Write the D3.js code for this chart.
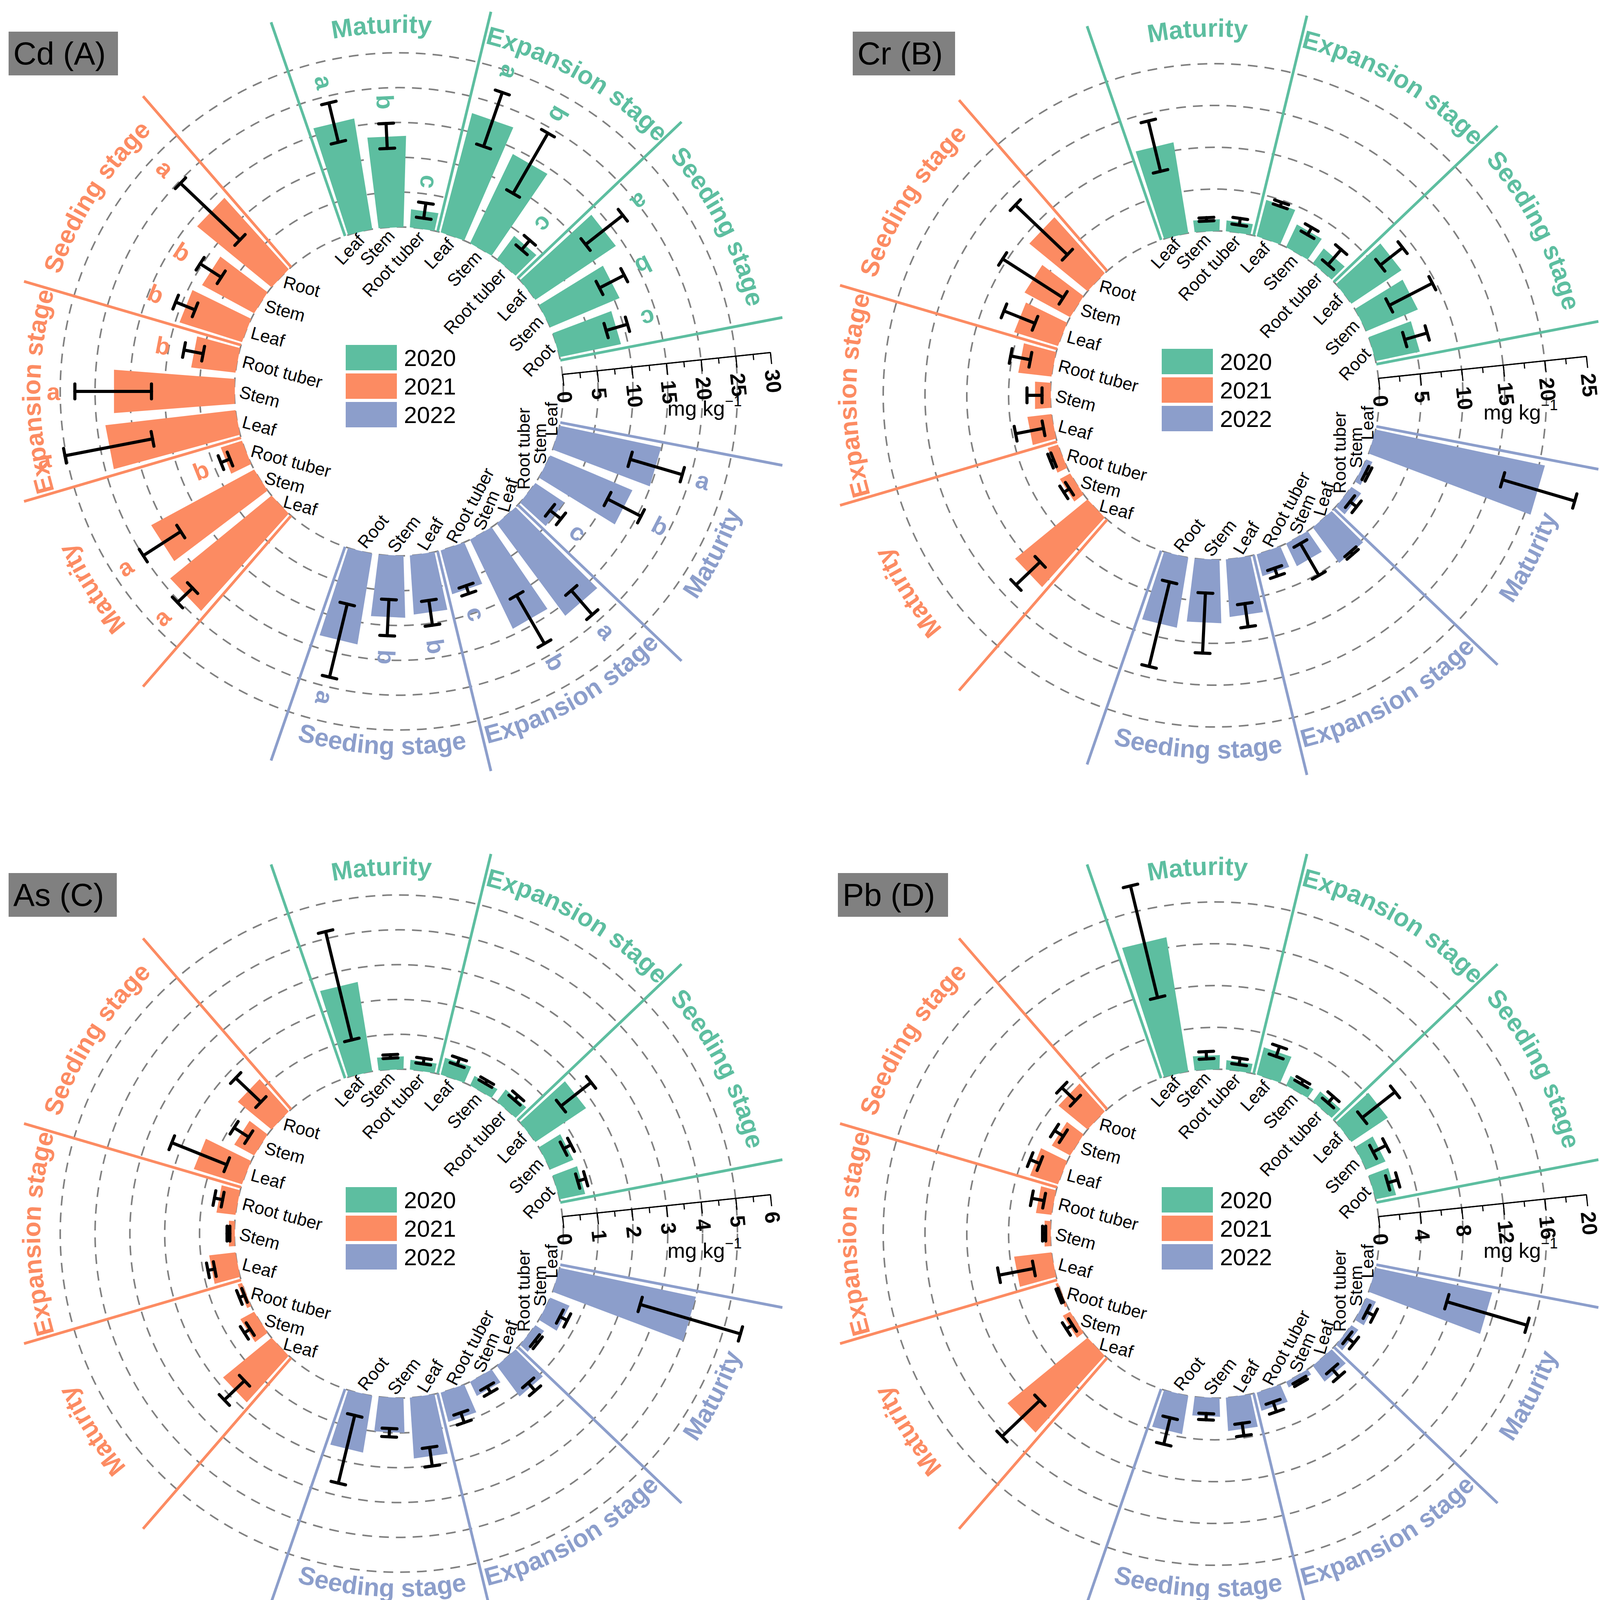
<!DOCTYPE html>
<html><head><meta charset="utf-8">
<script src="https://cdn.jsdelivr.net/npm/d3@7"></script>
<style>html,body{margin:0;padding:0;background:#fff;overflow:hidden}svg{display:block}</style>
</head><body><svg id="c"></svg>
<script>
// ---------- data ----------
const years = ["2020","2021","2022"];
const stages = ["Maturity","Expansion stage","Seeding stage"];
const organs = ["Leaf","Stem","Root tuber","Leaf","Stem","Root tuber","Leaf","Stem","Root"];

// Cd (A)
const cd2020 = [16.1, 13.1, 2.6, 17.7, 14.2, 4.2, 13.9, 10.8, 9.0];
const cd2020Sd = [2.9, 1.8, 1.1, 4.1, 5.0, 0.9, 3.4, 2.0, 1.6];
const cd2020Sig = ["a","b","c","a","b","c","a","b","c"];
const cd2021 = [18.8, 16.8, 3.2, 18.8, 17.4, 6.4, 9.4, 8.5, 13.8];
const cd2021Sd = [1.5, 3.2, 0.7, 6.4, 5.5, 1.4, 1.5, 1.8, 5.9];
const cd2021Sig = ["a","a","b","a","a","b","b","b","a"];
const cd2022 = [14.9, 12.8, 5.0, 16.5, 14.2, 6.5, 8.5, 8.9, 13.2];
const cd2022Sd = [3.9, 2.7, 1.0, 2.3, 4.0, 0.6, 1.8, 2.6, 5.4];
const cd2022Sig = ["a","b","c","a","b","c","b","b","a"];
// Cr (B)
const cr2020 = [11.0, 1.4, 1.3, 4.5, 3.0, 2.2, 7.2, 6.7, 5.4];
const cr2020Sd = [3.1, 0.2, 0.4, 0.25, 0.5, 1.2, 1.7, 2.9, 1.4];
const cr2021 = [11.2, 1.4, 1.3, 2.9, 1.9, 4.0, 5.5, 6.2, 9.0];
const cr2021Sd = [2.0, 0.4, 0.2, 1.7, 0.9, 1.2, 2.0, 4.3, 4.3];
const cr2022 = [20.7, 0.8, 1.4, 5.3, 3.0, 2.7, 6.9, 7.6, 8.5];
const cr2022Sd = [4.5, 0.2, 0.5, 0.2, 2.2, 0.5, 1.4, 3.6, 5.2];
// As (C)
const as2020 = [2.6, 0.37, 0.28, 0.5, 0.3, 0.43, 1.75, 0.72, 0.75];
const as2020Sd = [1.6, 0.05, 0.08, 0.1, 0.05, 0.08, 0.55, 0.12, 0.12];
const as2021 = [1.8, 0.45, 0.13, 0.76, 0.17, 0.55, 1.45, 0.65, 1.25];
const as2021Sd = [0.4, 0.1, 0.08, 0.1, 0.04, 0.12, 0.85, 0.25, 0.5];
const as2022 = [4.0, 0.6, 0.3, 1.1, 0.45, 0.87, 1.75, 1.0, 1.65];
const as2022Sd = [1.5, 0.12, 0.05, 0.15, 0.1, 0.15, 0.27, 0.12, 1.0];
// Pb (D)
const pb2020 = [13.0, 1.35, 0.9, 2.7, 1.0, 1.2, 4.2, 2.0, 2.0];
const pb2020Sd = [5.5, 0.35, 0.3, 0.5, 0.2, 0.4, 2.0, 0.7, 0.5];
const pb2021 = [9.9, 0.8, 0.25, 3.6, 0.6, 1.5, 2.8, 2.0, 3.6];
const pb2021Sd = [2.5, 0.35, 0.1, 1.7, 0.15, 0.6, 0.5, 0.5, 0.9];
const pb2022 = [11.4, 1.0, 0.8, 1.9, 0.6, 1.8, 3.2, 1.8, 3.7];
const pb2022Sd = [4.0, 0.4, 0.4, 0.5, 0.15, 0.5, 0.6, 0.3, 1.3];

// axis ranges
const axisMax = [30, 25, 6, 20];
const axisStep = [5, 5, 1, 4];
const titles = ["Cd (A)", "Cr (B)", "As (C)", "Pb (D)"];

// ---------- layout ----------
const R0 = 421, LEN = 535, SLOT = 360/33, BARW = 8.7, LINE_R = 1000;
const groupCenter = [30, 270, 150];
const colors = ["#5dbea0", "#fc8b62", "#8c9ecb"];
const flipped = [false, false, true];
const rot2022 = [-90,-90,-90,-74,-67,-62,-59,-52,-51];
const FONT = "'Liberation Sans', Arial, Helvetica, sans-serif";

const panels = [
  {cx:1021, cy:1002, box:[22,81,280,112], mean:[cd2020,cd2021,cd2022], sd:[cd2020Sd,cd2021Sd,cd2022Sd], sig:[cd2020Sig,cd2021Sig,cd2022Sig]},
  {cx:3110, cy:1012, box:[2183,81,262,112], mean:[cr2020,cr2021,cr2022], sd:[cr2020Sd,cr2021Sd,cr2022Sd], sig:null},
  {cx:1021, cy:3158, box:[22,2235,277,112], mean:[as2020,as2021,as2022], sd:[as2020Sd,as2021Sd,as2022Sd], sig:null},
  {cx:3110, cy:3158, box:[2145,2235,282,112], mean:[pb2020,pb2021,pb2022], sd:[pb2020Sd,pb2021Sd,pb2022Sd], sig:null}
];
panels.forEach((p,i)=>{p.title=titles[i]; p.max=axisMax[i]; p.step=axisStep[i];});

const svg = d3.select("#c").attr("width",4224).attr("height",4110).attr("viewBox","0 0 4224 4110")
  .style("font-family", FONT);
svg.append("rect").attr("width",4224).attr("height",4110).attr("fill","#fff");
const defs = svg.append("defs");

function pt(theta, r){ const a = theta*Math.PI/180; return [r*Math.sin(a), -r*Math.cos(a)]; }

panels.forEach((p, pi) => {
  const g = svg.append("g").attr("transform", `translate(${p.cx},${p.cy})`);
  const r = d3.scaleLinear().domain([0, p.max]).range([R0, R0 + LEN]);
  const majors = d3.range(0, p.max + p.step/2, p.step);

  // dashed grid circles
  g.append("g").selectAll("circle").data(majors.filter(v => v < p.max - 1e-9)).join("circle")
    .attr("r", d => r(d)).attr("fill","none").attr("stroke","#808080")
    .attr("stroke-width",4).attr("stroke-dasharray","25 18");

  years.forEach((yr, gi) => {
    const c = groupCenter[gi], col = colors[gi];
    const data = p.mean[gi].map((v,i)=>({v, e:p.sd[gi][i], s:p.sig ? p.sig[gi][i] : null,
      th: c + (i-4)*SLOT, name: organs[i], i}));
    const gg = g.append("g");

    // separator lines
    gg.selectAll("line.sep").data([-4.5,-1.5,1.5,4.5]).join("line").attr("class","sep")
      .each(function(k){
        const th = c + k*SLOT, a = pt(th, R0), b = pt(th, LINE_R);
        d3.select(this).attr("x1",a[0]).attr("y1",a[1]).attr("x2",b[0]).attr("y2",b[1]);
      })
      .attr("stroke", col).attr("stroke-width", 7);

    // bars
    gg.selectAll("path.bar").data(data).join("path").attr("class","bar")
      .attr("d", d => {
        const a1 = d.th - BARW/2, a2 = d.th + BARW/2, rv = r(d.v);
        const pts = [pt(a1,R0), pt(a1,rv), pt(a2,rv), pt(a2,R0)];
        return "M" + pts.map(q => q.join(",")).join("L") + "Z";
      })
      .attr("fill", col);

    // error bars
    const eg = gg.append("g").attr("stroke","#000").attr("stroke-width",8).attr("stroke-linecap","round").attr("fill","none");
    data.forEach(d => {
      const lo = Math.max(0, d.v - d.e), hi = d.v + d.e;
      const a = pt(d.th, r(lo)), b = pt(d.th, r(hi));
      const t = [Math.cos(d.th*Math.PI/180), Math.sin(d.th*Math.PI/180)], h = 19;
      eg.append("line").attr("x1",a[0]).attr("y1",a[1]).attr("x2",b[0]).attr("y2",b[1]);
      [a,b].forEach(q => eg.append("line")
        .attr("x1", q[0]-h*t[0]).attr("y1", q[1]-h*t[1]).attr("x2", q[0]+h*t[0]).attr("y2", q[1]+h*t[1]));
    });

    // significance letters
    if (p.sig) {
      gg.selectAll("text.sig").data(data).join("text").attr("class","sig")
        .attr("transform", d => { const q = pt(d.th, r(d.v + d.e) + 55);
          return `translate(${q[0]},${q[1]}) rotate(${flipped[gi] ? d.th - 90 : d.th + 90})`; })
        .attr("text-anchor","middle").attr("dominant-baseline","central")
        .attr("font-size",62).attr("font-weight","bold").attr("fill", col).text(d => d.s);
    }

    // organ labels
    gg.selectAll("text.org").data(data).join("text").attr("class","org")
      .attr("transform", d => { const q = pt(d.th, R0 - 14);
        const rot = gi === 0 ? -47 : gi === 1 ? 15 : rot2022[d.i];
        return `translate(${q[0]},${q[1]}) rotate(${rot})`; })
      .attr("text-anchor", gi === 0 ? "end" : "start").attr("dominant-baseline","central")
      .attr("font-size",45).attr("fill","#000").text(d => d.name);

    // stage labels on arcs
    stages.forEach((st, si) => {
      const sc = c + (si - 1)*3*SLOT, id = `sp${pi}_${gi}_${si}`;
      let dpath;
      if (!flipped[gi]) {
        const R = 918, a = pt(sc-30, R), b = pt(sc+30, R);
        dpath = `M${a[0]},${a[1]} A${R},${R} 0 0 1 ${b[0]},${b[1]}`;
      } else {
        const R = 930, a = pt(sc+30, R), b = pt(sc-30, R);
        dpath = `M${a[0]},${a[1]} A${R},${R} 0 0 0 ${b[0]},${b[1]}`;
      }
      defs.append("path").attr("id", id).attr("d", dpath)
        .attr("transform", `translate(${p.cx},${p.cy})`);
      svg.append("text").attr("font-size",65).attr("font-weight","bold").attr("fill",col)
        .append("textPath").attr("href", "#"+id).attr("startOffset","50%").attr("text-anchor","middle").text(st);
    });
  });

  // radial axis
  const as = d3.scaleLinear().domain([0, p.max]).range([0, LEN]);
  const ap = pt(84, R0);
  const ag = g.append("g").attr("transform", `translate(${ap[0]},${ap[1]}) rotate(-6)`);
  const minorAx = ag.append("g").call(d3.axisBottom(as).tickValues(d3.range(0, p.max + 1e-9, p.step/2)).tickSize(15).tickFormat("").tickSizeOuter(0));
  const majorAx = ag.append("g").call(d3.axisBottom(as).tickValues(majors).tickSize(30).tickSizeOuter(0).tickFormat(d3.format("d")));
  ag.selectAll("path.domain").attr("stroke","#000").attr("stroke-width",3);
  ag.selectAll(".tick line").attr("stroke","#000").attr("stroke-width",3);
  majorAx.attr("font-family", null).attr("font-size", null);
  minorAx.attr("font-family", null).attr("font-size", null);
  majorAx.selectAll("text").attr("x",0).attr("y",0).attr("dy","0.36em")
    .attr("transform","translate(0,44) rotate(90)").attr("text-anchor","start")
    .attr("font-size",54).attr("font-weight","bold").attr("fill","#000");

  const ut = g.append("text").attr("x",783).attr("y",62).attr("text-anchor","middle")
    .attr("font-size",54).attr("fill","#000");
  ut.append("tspan").text("mg kg");
  ut.append("tspan").attr("dy",-24).attr("font-size",38).text("\u22121");

  // legend
  const lg = g.append("g").attr("transform","translate(-136,-119)");
  years.forEach((yr, gi) => {
    lg.append("rect").attr("x",0).attr("y",gi*73).attr("width",131).attr("height",65).attr("fill",colors[gi]);
    lg.append("text").attr("x",149).attr("y",gi*73+54).attr("font-size",60).attr("fill","#000").text(yr);
  });

  // title box
  const [bx,by,bw,bh] = p.box;
  svg.append("rect").attr("x",bx).attr("y",by).attr("width",bw).attr("height",bh).attr("fill","#808080");
  svg.append("text").attr("x",bx+12).attr("y",by+84).attr("font-size",82).attr("fill","#000").text(p.title);
});
</script>
</body></html>
